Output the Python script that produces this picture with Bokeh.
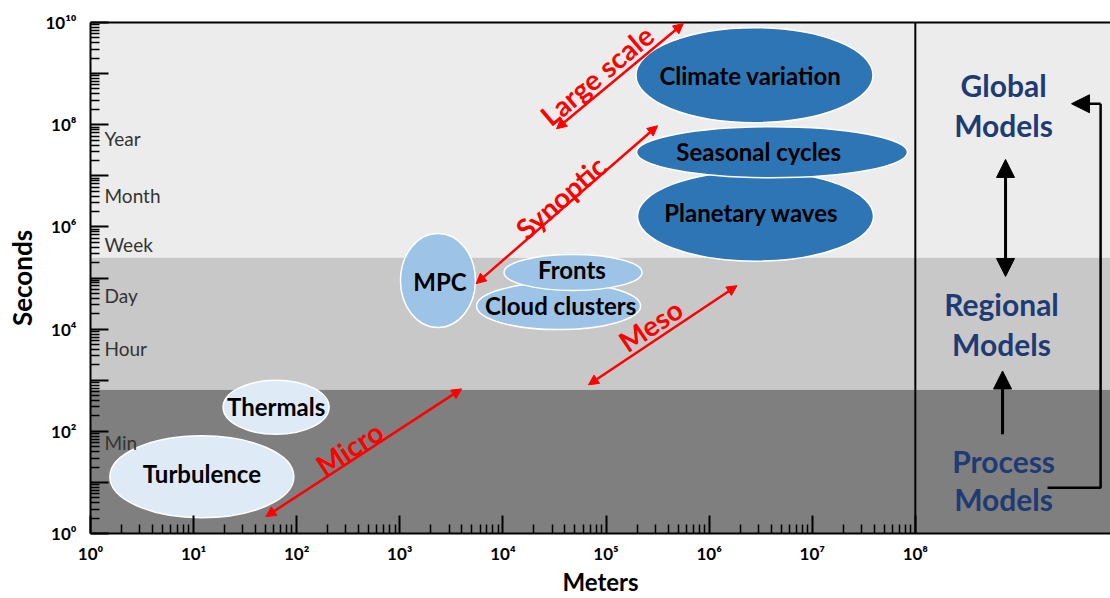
from bokeh.plotting import figure
from bokeh.models import Range1d, FixedTicker, LogAxis, Span, Arrow, NormalHead, ColumnDataSource
from bokeh.core.properties import value
from bokeh.embed import file_html
from bokeh.resources import INLINE

# ---------------- data (log10 exponents) ----------------
x_decades = list(range(0, 9))          # 10^0 .. 10^8 meters
y_decades = list(range(0, 11))         # 10^0 .. 10^10 seconds

band_lo = [0.0, 2.82, 5.40]            # Process / Regional / Global bands (log10 s)
band_hi = [2.82, 5.40, 10.0]
band_color = ["#7f7f7f", "#c8c8c8", "#ececec"]

time_names = ["Year", "Month", "Week", "Day", "Hour", "Min"]
time_ly = [7.73, 6.62, 5.65, 4.66, 3.63, 1.79]

phen_names = ["Climate variation", "Planetary waves", "Seasonal cycles", "MPC",
              "Cloud clusters", "Fronts", "Turbulence", "Thermals"]
phen_lx = [6.44, 6.45, 6.61, 3.37, 4.54, 4.68, 1.08, 1.80]
phen_ly = [8.97, 6.21, 7.46, 4.95, 4.45, 5.11, 1.11, 2.47]
phen_w = [237, 236, 271, 75, 164, 138, 184, 106]
phen_h = [95, 90, 51, 94, 47, 36, 82, 54]
phen_color = ["#2e75b6", "#2e75b6", "#2e75b6", "#9dc3e6",
              "#9dc3e6", "#9dc3e6", "#deebf7", "#deebf7"]
phen_text_lx = [6.40, 6.41, 6.48, 3.39, 4.56, 4.67, 1.08, 1.80]
phen_text_ly = [8.97, 6.29, 7.48, 4.93, 4.47, 5.17, 1.17, 2.49]

scale_names = ["Large scale", "Synoptic", "Meso", "Micro"]
arrow_x0 = [4.52, 5.50, 4.83, 1.70]
arrow_y0 = [7.92, 7.98, 2.91, 0.33]
arrow_x1 = [5.75, 3.74, 6.27, 3.60]
arrow_y1 = [9.98, 4.89, 4.85, 2.83]
scale_text_lx = [4.91, 4.56, 5.43, 2.51]
scale_text_ly = [8.97, 6.58, 4.08, 1.67]
scale_angle = [0.70, 0.72, 0.59, 0.58]

model_lines = ["Global", "Models", "Regional", "Models", "Process", "Models"]
model_lx = [8.856, 8.856, 8.836, 8.836, 8.856, 8.856]
model_ly = [8.78, 8.00, 4.49, 3.71, 1.42, 0.68]

SUP = "⁰¹²³⁴⁵⁶⁷⁸⁹"
def sup(n):
    return "".join(SUP[int(c)] for c in str(n))

FONT = "Lato"

p = figure(width=1110, height=598, x_axis_type="log", y_axis_type="log",
           x_range=Range1d(1, 10 ** 9.893), y_range=Range1d(1, 1e10),
           output_backend="svg", toolbar_location=None,
           min_border_left=90, min_border_right=0, min_border_top=22, min_border_bottom=61)
p.grid.visible = False
p.outline_line_color = None
p.background_fill_color = "white"

# background bands
p.hstrip(y0=[10 ** v for v in band_lo], y1=[10 ** v for v in band_hi],
         fill_color=band_color, line_color=None)

# separator at 10^8 m
p.add_layout(Span(location=10 ** 8, dimension="height", line_color="black", line_width=2))

# ellipses
src = ColumnDataSource(dict(x=[10 ** v for v in phen_lx], y=[10 ** v for v in phen_ly],
                            w=phen_w, h=phen_h, c=phen_color))
p.ellipse(x="x", y="y", width="w", height="h", width_units="screen", height_units="screen",
          fill_color="c", line_color="white", line_width=1.5, source=src)
p.text(x=[10 ** v for v in phen_text_lx], y=[10 ** v for v in phen_text_ly], text=phen_names,
       text_font=value(FONT), text_font_style="bold", text_font_size="24px",
       text_color="black", text_align="center", text_baseline="middle")

# time labels
p.text(x=[10 ** 0.136] * len(time_names), y=[10 ** v for v in time_ly], text=time_names,
       text_font=value(FONT), text_font_size="19px", text_color="#333333",
       text_align="left", text_baseline="middle")

# red scale arrows
for i in range(len(scale_names)):
    p.add_layout(Arrow(start=NormalHead(size=10, fill_color="red", line_color="red"),
                       end=NormalHead(size=10, fill_color="red", line_color="red"),
                       x_start=10 ** arrow_x0[i], y_start=10 ** arrow_y0[i],
                       x_end=10 ** arrow_x1[i], y_end=10 ** arrow_y1[i],
                       line_color="red", line_width=2.5))
p.text(x=[10 ** v for v in scale_text_lx], y=[10 ** v for v in scale_text_ly], text=scale_names,
       angle=scale_angle, text_font=value(FONT), text_font_style="bold", text_font_size="28px",
       text_color="red", text_align="center", text_baseline="middle")

# model labels
p.text(x=[10 ** v for v in model_lx], y=[10 ** v for v in model_ly], text=model_lines,
       text_font=value(FONT), text_font_style="bold", text_font_size="30px",
       text_color="#1f3b73", text_align="center", text_baseline="middle")

# black arrows in right panel
p.add_layout(Arrow(start=NormalHead(size=18, fill_color="black", line_color="black"),
                   end=NormalHead(size=18, fill_color="black", line_color="black"),
                   x_start=10 ** 8.875, y_start=10 ** 5.03, x_end=10 ** 8.875, y_end=10 ** 7.32,
                   line_color="black", line_width=3))
p.add_layout(Arrow(end=NormalHead(size=18, fill_color="black", line_color="black"),
                   x_start=10 ** 8.846, y_start=10 ** 1.94, x_end=10 ** 8.846, y_end=10 ** 3.18,
                   line_color="black", line_width=3))
p.line(x=[10 ** 9.282, 10 ** 9.797, 10 ** 9.797], y=[10 ** 0.893, 10 ** 0.893, 10 ** 8.41],
       line_color="black", line_width=2.5)
p.add_layout(Arrow(end=NormalHead(size=18, fill_color="black", line_color="black"),
                   x_start=10 ** 9.797, y_start=10 ** 8.41, x_end=10 ** 9.515, y_end=10 ** 8.41,
                   line_color="black", line_width=2.5))

# axes
xa = p.xaxis[0]
xa.ticker = FixedTicker(ticks=[10 ** k for k in x_decades],
                        minor_ticks=[m * 10 ** k for k in x_decades[:-1] for m in range(2, 10)])
xa.major_label_overrides = {10 ** k: "10" + sup(k) for k in x_decades}
ya = p.yaxis[0]
ya.ticker = FixedTicker(ticks=[10 ** k for k in y_decades],
                        minor_ticks=[m * 10 ** k for k in y_decades[:-1] for m in range(2, 10)])
ya.major_label_overrides = {10 ** k: ("10" + sup(k) if k % 2 == 0 else " ") for k in y_decades}

for ax in (xa, ya):
    ax.major_tick_in = 18
    ax.major_tick_out = 0
    ax.minor_tick_in = 9
    ax.minor_tick_out = 0
    ax.axis_line_width = 2
    ax.axis_line_color = "black"
    ax.major_tick_line_width = 2
    ax.minor_tick_line_width = 1.5
    ax.major_tick_line_color = "black"
    ax.minor_tick_line_color = "black"
    ax.major_label_text_font = FONT
    ax.major_label_text_font_style = "bold"
    ax.major_label_text_font_size = "17px"
    ax.major_label_text_color = "black"
    ax.axis_label_text_font = FONT
    ax.axis_label_text_font_style = "bold"
    ax.axis_label_text_font_size = "26px"
    ax.axis_label_text_color = "black"

xa.axis_label = "Meters"
xa.axis_label_text_font_size = "24px"
xa.major_label_standoff = 9
xa.axis_label_standoff = 0
ya.axis_label = "Seconds"
ya.major_label_standoff = 14
ya.axis_label_standoff = 4

top = LogAxis(ticker=FixedTicker(ticks=[]), major_tick_in=0, major_tick_out=0,
              minor_tick_in=0, minor_tick_out=0, major_label_text_font_size="0px",
              axis_line_width=2, axis_line_color="black")
p.add_layout(top, "above")

open("out.html", "w").write(file_html(p, INLINE))
